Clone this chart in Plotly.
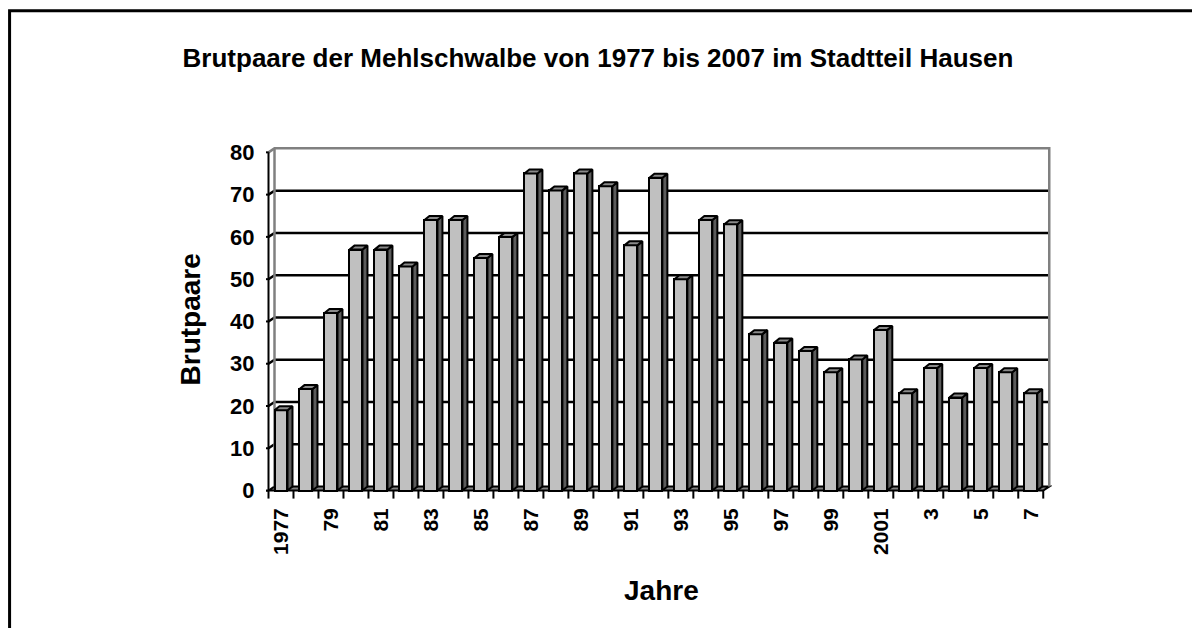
import plotly.graph_objects as go

years = list(range(1977, 2008))
pairs = [19, 24, 42, 57, 57, 53, 64, 64, 55, 60, 75, 71, 75, 72, 58, 74, 50, 64, 63,
         37, 35, 33, 28, 31, 38, 23, 29, 22, 29, 28, 23]
tick_labels = ["1977", "79", "81", "83", "85", "87", "89", "91", "93", "95", "97", "99",
               "2001", "3", "5", "7"]
y_ticks = [0, 10, 20, 30, 40, 50, 60, 70, 80]

FONT = "Liberation Sans, Arial, sans-serif"
n = len(years)
idx = list(range(n))

# 3D depth offsets (in data units)
DX = 0.24
DY = 0.94
BW = 0.52      # front face width
BDX = 0.20     # bar depth x offset
BDY = 0.94     # bar depth y offset

OFF = 8  # page body offset compensation
W, H = 1200, 628
x_range = [-0.6, 30.85]
y_range = [-2, 81.5]
pxx = 25.0
pxy = 4.2375
left = 268 - 0.1 * pxx - OFF
right_px = left + (x_range[1] - x_range[0]) * pxx
zero_px = 491 - OFF
top_px = zero_px - y_range[1] * pxy
bot_px = zero_px - y_range[0] * pxy

fig = go.Figure()

# front faces
fig.add_trace(go.Bar(
    x=idx, y=pairs, width=BW,
    marker=dict(color="#C0C0C0", line=dict(color="black", width=2)),
    hoverinfo="skip", showlegend=False,
))

# side faces and caps
sx, sy, cx, cy = [], [], [], []
for i, v in zip(idx, pairs):
    r = i + BW / 2
    l = i - BW / 2
    sx += [r, r + BDX, r + BDX, r, r, None]
    sy += [0, BDY, v + BDY, v, 0, None]
    cx += [l, r, r + BDX, l + BDX, l, None]
    cy += [v, v, v + BDY, v + BDY, v, None]
fig.add_trace(go.Scatter(x=sx, y=sy, mode="lines", fill="toself", fillcolor="#5c5c5c",
                         line=dict(color="black", width=2), hoverinfo="skip", showlegend=False))
fig.add_trace(go.Scatter(x=cx, y=cy, mode="lines", fill="toself", fillcolor="#8a8a8a",
                         line=dict(color="black", width=2), hoverinfo="skip", showlegend=False))

shapes = []
x0f, x1f = -0.5, n - 0.5
# floor
shapes.append(dict(type="path", xref="x", yref="y", layer="below",
                   path=f"M {x0f},0 L {x1f},0 L {x1f+DX},{DY} L {x0f+DX},{DY} Z",
                   fillcolor="#808080", line=dict(color="black", width=2)))
# gridlines on back wall + side wall
for v in y_ticks[1:-1]:
    shapes.append(dict(type="path", xref="x", yref="y", layer="below",
                       path=f"M {x0f},{v} L {x0f+DX},{v+DY} L {x1f+DX},{v+DY}",
                       line=dict(color="black", width=2.5)))
# wall borders (gray)
top = y_ticks[-1]
shapes.append(dict(type="path", xref="x", yref="y", layer="below",
                   path=f"M {x0f},{top} L {x0f+DX},{top+DY} L {x1f+DX},{top+DY} L {x1f+DX},{DY}",
                   line=dict(color="#808080", width=2.5)))
shapes.append(dict(type="line", xref="x", yref="y", layer="below",
                   x0=x0f + DX, x1=x0f + DX, y0=DY, y1=top + DY,
                   line=dict(color="#808080", width=2.5)))
# front y axis line
shapes.append(dict(type="line", xref="x", yref="y", x0=x0f, x1=x0f, y0=0, y1=top,
                   line=dict(color="black", width=2)))
# y tick marks
for v in y_ticks:
    shapes.append(dict(type="line", xref="x", yref="y", x0=x0f - 8 / pxx, x1=x0f, y0=v, y1=v,
                       line=dict(color="black", width=2)))
# x tick marks at category boundaries
for k in range(n + 1):
    b = k - 0.5
    shapes.append(dict(type="line", xref="x", yref="y", x0=b, x1=b, y0=0, y1=-1.9,
                       line=dict(color="black", width=2)))


def px2paper_x(p):
    return (p - OFF - left) / (right_px - left)


def px2paper_y(p):
    return (bot_px - (p - OFF)) / (bot_px - top_px)


# outer border (extends past right/bottom edges)
shapes.append(dict(type="rect", xref="paper", yref="paper",
                   x0=px2paper_x(9), x1=px2paper_x(1240), y0=px2paper_y(670), y1=px2paper_y(10),
                   line=dict(color="black", width=3)))

annotations = [
    dict(text="<b>Brutpaare</b>", xref="paper", yref="paper", x=px2paper_x(190), y=px2paper_y(320),
         showarrow=False, textangle=-90, font=dict(family=FONT, size=28, color="black"),
         xanchor="center", yanchor="middle"),
    dict(text="<b>Jahre</b>", xref="paper", yref="paper", x=px2paper_x(661), y=px2paper_y(591),
         showarrow=False, font=dict(family=FONT, size=28, color="black"),
         xanchor="center", yanchor="middle"),
]

fig.update_layout(
    width=W, height=H,
    paper_bgcolor="white", plot_bgcolor="rgba(0,0,0,0)",
    margin=dict(l=left, r=W - right_px, t=top_px, b=H - bot_px, autoexpand=False),
    title=dict(text="<b>Brutpaare der Mehlschwalbe von 1977 bis 2007 im Stadtteil Hausen</b>",
               x=(598 - OFF) / W, xanchor="center", y=1 - (58 - OFF) / H, yanchor="middle",
               font=dict(family=FONT, size=26, color="black")),
    xaxis=dict(range=x_range, showgrid=False, zeroline=False, showline=False,
               tickmode="array", tickvals=idx[::2], ticktext=tick_labels, tickangle=-90,
               ticks="", ticklabelstandoff=4,
               tickfont=dict(family=FONT, size=21, color="black", weight="bold")),
    yaxis=dict(range=y_range, showgrid=False, zeroline=False, showline=False,
               tickmode="array", tickvals=y_ticks, ticks="outside", ticklen=6,
               tickcolor="rgba(0,0,0,0)",
               tickfont=dict(family=FONT, size=22, color="black", weight="bold")),
    shapes=shapes, annotations=annotations, bargap=0,
)

fig.write_html("out.html")
